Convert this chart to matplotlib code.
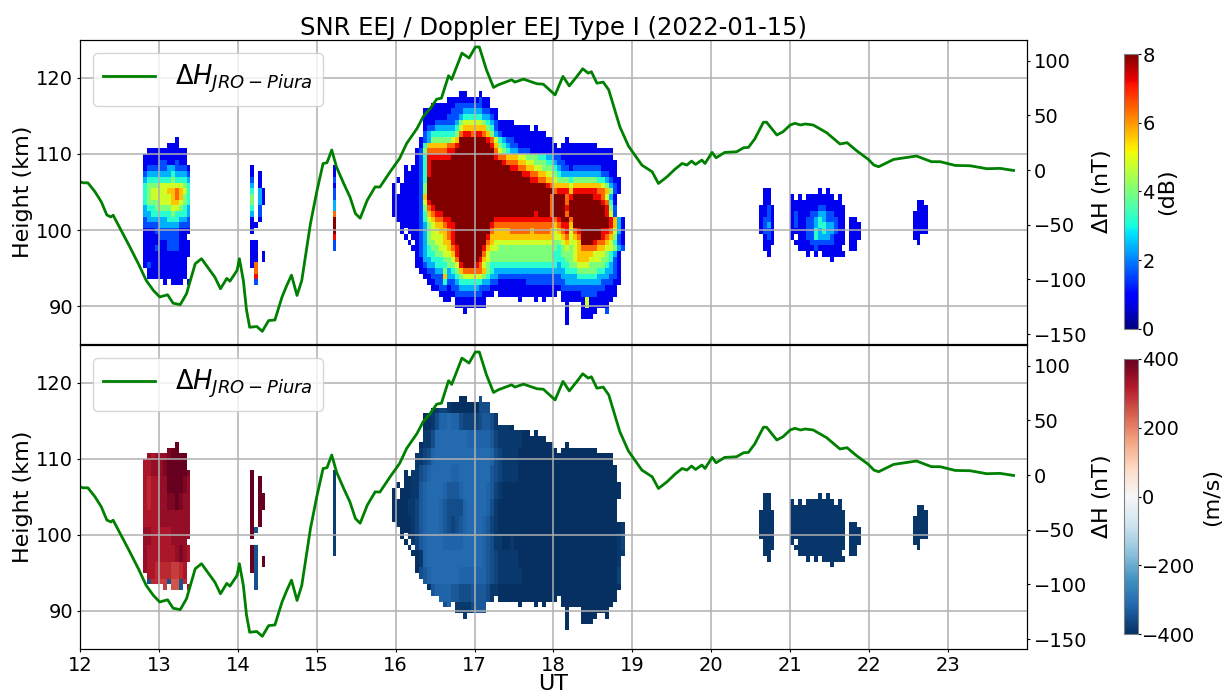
import numpy as np
import matplotlib
matplotlib.use('Agg')
import matplotlib.pyplot as plt

# magnetometer difference
dh_time = [12.00, 12.04, 12.10, 12.19, 12.27, 12.34, 12.39, 12.42, 12.51, 12.63, 12.74, 12.84, 12.93, 13.01, 13.11,
           13.18, 13.27, 13.35, 13.46, 13.54, 13.63, 13.71, 13.78, 13.86, 13.90, 13.99, 14.02, 14.07, 14.11, 14.15,
           14.24, 14.31, 14.39, 14.47, 14.56, 14.62, 14.68, 14.75, 14.81, 14.92, 15.00, 15.08, 15.13, 15.19, 15.25,
           15.34, 15.42, 15.49, 15.55, 15.64, 15.74, 15.80, 15.93, 16.05, 16.14, 16.27, 16.35, 16.44, 16.52, 16.58,
           16.67, 16.71, 16.84, 16.93, 17.01, 17.06, 17.15, 17.24, 17.30, 17.47, 17.51, 17.62, 17.79, 17.87, 18.02,
           18.12, 18.20, 18.30, 18.37, 18.44, 18.48, 18.55, 18.63, 18.70, 18.84, 18.95, 19.12, 19.25, 19.33, 19.44,
           19.54, 19.63, 19.69, 19.75, 19.80, 19.88, 19.92, 20.01, 20.06, 20.17, 20.32, 20.41, 20.47, 20.55, 20.66,
           20.70, 20.83, 20.91, 21.00, 21.06, 21.13, 21.19, 21.29, 21.46, 21.63, 21.72, 21.84, 21.99, 22.06, 22.12,
           22.31, 22.60, 22.79, 22.90, 23.09, 23.28, 23.49, 23.66, 23.83]
dh_value = [-10.7, -11.6, -11.6, -19.8, -29, -41, -42.8, -41.2, -53.5, -70, -85.6, -101, -110, -116, -114,
            -121.7, -123, -113, -85.6, -81, -90, -98, -108.5, -99, -101.5, -91.7, -81, -101, -128, -143.7,
            -143, -147.4, -137.6, -137, -116, -105.5, -96, -114.6, -101, -49, -19.8, 6, 6.8, 18.4, 3,
            -12, -24.4, -39.7, -44, -27.5, -15.3, -15.5, -1.5, 10.7, 24.5, 38, 49, 56.6, 64.9, 65.8,
            86.3, 83, 107, 102.5, 112.6, 112.6, 91.8, 75.6, 78, 82.6, 80.5, 83.2, 79, 78.6, 68.8,
            85.7, 77, 86, 92.7, 88.7, 90, 79.5, 80.5, 73.4, 39.8, 22, 4.6, -1.5, -12.2, -6,
            0.9, 6.1, 4.6, 8.3, 5.2, 9.2, 6.1, 16.2, 11.3, 16.2, 16.8, 20.5, 20.8, 28.5, 43.8,
            43.8, 32.1, 35.2, 41.3, 42.8, 41.3, 42.2, 41.3, 34.3, 23.9, 25.1, 17.8, 9.8, 4.6, 3.1,
            9.8, 12.9, 7.7, 7.7, 4.3, 4, 1.3, 1.6, -0.3]

# SNR cells, one char per 3 min x 0.75 km, char = level*0.8 dB (a = 8 dB), . = no echo
snr_main = [
    ".......... .......11. ..1....... .......... .......... .........",
    ".......... ....111111 11211..... .......... .......... .........",
    ".......... 1111112222 22211..... .......... .......... .........",
    "........11 1111122233 3332211... .......... .......... .........",
    "........11 1111222344 4443321... .......... .......... .........",
    "........11 1222223566 6665432111 1......... .......... .........",
    "........12 2333334677 7777542111 11111.1... .......... .........",
    "........23 4444445899 8998753211 111111111. .......... .........",
    ".......123 5555567aaa aaaa986432 2111111111 1...1..... .........",
    ".......147 7777889aaa aaaaa97543 2211111111 11.1111111 11.......",
    "......1258 888899aaaa aaaaaa8654 3322211111 1111111111 111111...",
    "......1249 99999aaaaa aaaaaa9887 7766555443 3221111111 111111...",
    "......1249 aaaaaaaaaa aaaaaaaa98 8877665554 4322111111 1111111..",
    "...1.11249 aaaaaaaaaa aaaaaaaaaa 9988776655 5432212222 22211 11.",
    "...1111249 aaaaaaaaaa aaaaaaaaaa aaa9988776 6543333333 3332211..",
    ".1.111124a aaaaaaaaaa aaaaaaaaaa aaaaa99887 7655545555 5544321 1",
    "1.1111125a aaaaaaaaaa aaaaaaaaaa aaaaaaaaa9 8777767777 7776532 1",
    "1.1111125a aaaaaaaaaa aaaaaaaaaa aaaaaaaaaa a899979999 9988752 1",
    "1111111 27a aaaaaaaaa aaaaaaaaaa aaaaaaaaaa a8aaa89aaa aa99863 1",
    "1111111 269 aaaaaaaaa aaaaaaaaaa aaaaaaaaaa a8aaa8aaaa aaaa9841.",
    "1111111 258 9aaaaaaaa aaaaaaaaaa aaaaaaaaaa a8aaa9aaaa aaaaa9 52.",
    "1111111 247 899aaaaaa aaaaaaaaaa aaaaaaa9aa a8aaa8aaaa aaaaa9 62.",
    ".111111246 7889 9aaaaa aaaaaa9999 9999999999 989aa8aaaa aaaaa973 1",
    "..11111235 6778 99aaaa aaaaa98888 8888888888 8789 97aaaa aaaaa973 1",
    "..1.111235 6677 89aaaa aaaaa87777 8888878888 76789 689aa aaa9986 31",
    "...1.11235 6667 89aaaa aaaa977777 7777777777 76678 678aa aaa9875 21",
    "....1.1235 5667 79aaaa aaaa876666 6666666666 65567 667aa a988764 21",
    ".....11234 5566 789aaa aaa9766555 5555555555 55456 5678 88877665 32.",
    "......1234 4556 679aaa aaa8655555 5555555555 54455 5677 77666 5431.",
    "......1133 4445 568aaa aa97655555 5555555555 54445 5677 76665 5421.",
    "......1123 3444 5569aa a986544444 4444444444 44344 5566 65555 4321.",
    ".......112 2335 345788 8887543333 3333333333 33334 4455 5554433 21.",
    "........11 2227 334566 6665433222 2222222222 22233 3344 4443332 21.",
    ".........1 1224 223444 4443322111 1111222222 22223 3333 3333222 11.",
    ".......... 1122 122333 3322211111 1111111111 11122 2222 2222211 1..",
    ".......... ..11 112222 2221 11.111 1111111111 11.11 11122 2211111 ..",
    ".......... ...11 .1111 1111...... ..1...1.1. ...111 1116 111111 ...",
    ".......... ...... 1111 1111...... .......... ....1 ...16 11111 ....",
    ".......... ........1. .......... .......... ....1 ...11 11..2 ....",
    ".......... .......... .......... .......... ....1 ...11 1........",
    ".......... .......... .......... .......... ....1 ..... .........",
]
snr_13h = [
    "........1...",
    "......111...",
    ".1111111111.",
    "11111111111.",
    "11112211211.",
    "122222332221",
    "233333343332",
    "344444454443",
    "455566666654",
    "456666778764",
    "456666678754",
    "455566677654",
    "344555566543",
    "334444454443",
    "233333444332",
    "222233333222",
    "111222222111",
    "111122222 11.",
    "111111222111",
    "111211222111",
    "111111111111",
    "11111111111.",
    "12111111111.",
    ".1111111111.",
    ".1111111111.",
    ".....1.111.1",
]
snr_14h = [
    "1...", "1.1.", "2.1.", "3.1.", "4.31", "5.31", "5.31", "4.2.", "3.2.", "1.1.", "11..", "1...",
    "....", "11..", "11..", "11.1", "11.1", "18..", ".8..", ".9..", ".2..",
]
snr_15h = ["1", "1", "2", "1", "2", "2", "3", "3", "8", "a", "a", "a", "9", "2", "2"]
snr_20h = [
    ".11.", ".11.", ".11.", "1121", "1121", "1221", "1231", "1221", ".121", ".111", ".11.", "..1.",
]
snr_21h = [
    ".......1.1........",
    "1.1.1111111.1.....",
    "1111111111111.....",
    "11111112211111....",
    "12111223322111....",
    "12112234322211.11.",
    "12112234433211.111",
    "11112243433211.111",
    "1.112243332111.111",
    ".11112222221 11.11.",
    "..1111211111 1..11.",
    "....1.1.111111....",
    "..........1.......",
]
snr_22h = [".11.", ".111", "1111", "1111", "1111", "1111", "11..", ".1.."]

# Doppler, same cells. main blob in 3-row bands, char c -> -400 + 15*c m/s
vel_main_bands = [
    "0000000000 0122100000 0033300000 0000000000 0000000000 000000000",
    "0000000000 1355655322 2234431111 0000000000 0000000000 000000000",
    "0000000011 3666666665 5555542111 1110000000 0000000000 000000000",
    "0000001123 5666666666 6666653211 1100000000 0000000000 000000000",
    "0000011345 6666655666 6666643211 1100000000 0000000000 000000000",
    "0000011456 6665444566 6666542100 0000000000 0000000000 000000000",
    "0000112456 6654333356 6666531000 0000000000 0000000000 000000000",
    "0000012456 6654323456 6665421000 0000000000 0000000000 000000001",
    "0000112456 6665555566 6665431100 1000000000 0000000000 000000012",
    "0000000156 6666666666 6665432111 1100000000 0000000000 000000011",
    "0000000345 6666666555 5555432111 1110000000 0000000000 000000020",
    "0000000000 4555544333 4444311000 0000000000 0000000000 000000000",
    "0000000000 3333541111 3444300000 0000000000 0000000000 000000000",
    "0000000000 0000000000 0000000000 0000000000 0000000000 000000000",
]
# 13 UT blob, char c -> 400 - 25*c m/s, n = -350 m/s
vel_13h_bands = [
    "223222100000",
    "332221000001",
    "343322000012",
    "343322110122",
    "333322222222",
    "223333322222",
    "233333332123",
    "233444455433",
    "2n4455n66n43",
]
vel_14h_cols = [400, -350, 400, 400]
vel_15h = -380
vel_late = -390

snr_ticks = [0, 2, 4, 6, 8]
vel_ticks = [-400, -200, 0, 200, 400]
dh_ticks = [-150, -100, -50, 0, 50, 100]
ut_ticks = list(range(12, 24))
height_ticks = [90, 100, 110, 120]

title = 'SNR EEJ / Doppler EEJ Type I (2022-01-15)'
dh_label = r'$\Delta H_{JRO-Piura}$'

plt.rcParams['font.size'] = 14
plt.rcParams['axes.labelsize'] = 16
plt.rcParams['grid.linewidth'] = 1.1
plt.rcParams['xtick.major.size'] = 2
plt.rcParams['ytick.major.size'] = 2
plt.rcParams['xtick.major.pad'] = 3
plt.rcParams['ytick.major.pad'] = 3

# grid of the radar cells
dt = 0.05
dz = 0.75
time_edges = 12 + dt * np.arange(241)
height_edges = 118.25 - dz * np.arange(42)
snr = np.full((41, 240), np.nan)
vel = np.full((41, 240), np.nan)


def clean(rows):
    return [r.replace(' ', '') for r in rows]


def put_snr(t0, k0, rows):
    col = int(round((t0 - 12) / dt))
    for k, row in enumerate(clean(rows)):
        for i, c in enumerate(row):
            if c != '.':
                snr[k0 + k, col + i] = int(c, 11) * 0.8


put_snr(15.95, 0, snr_main)
put_snr(12.80, 8, snr_13h)
put_snr(14.15, 13, snr_14h)
put_snr(15.20, 13, snr_15h)
put_snr(20.60, 17, snr_20h)
put_snr(21.00, 17, snr_21h)
put_snr(22.55, 19, snr_22h)

# main blob Doppler
bands = clean(vel_main_bands)
col0 = int(round((15.95 - 12) / dt))
for k in range(41):
    row = bands[k // 3]
    for i, c in enumerate(row):
        vel[k, col0 + i] = -400 + 15 * int(c)
# 13 UT
col0 = int(round((12.80 - 12) / dt))
for k in range(26):
    for i, c in enumerate(vel_13h_bands[k // 3]):
        vel[8 + k, col0 + i] = -350 if c == 'n' else 400 - 25 * int(c)
# 14 UT
col0 = int(round((14.15 - 12) / dt))
for i, v in enumerate(vel_14h_cols):
    vel[:, col0 + i] = v
vel[:, int(round((15.20 - 12) / dt))] = vel_15h
vel[:, int(round((20.60 - 12) / dt)):int(round((20.80 - 12) / dt))] = vel_late
vel[:, int(round((21.00 - 12) / dt)):int(round((21.90 - 12) / dt))] = vel_late
vel[:, int(round((22.55 - 12) / dt)):int(round((22.75 - 12) / dt))] = vel_late
vel[np.isnan(snr)] = np.nan

W, H = 1223.0, 693.0
fig = plt.figure(figsize=(12.23, 6.93), dpi=100)


def panel(y_top, y_bot):
    return fig.add_axes([80 / W, 1 - y_bot / H, (1027 - 80) / W, (y_bot - y_top) / H])


def draw(ax, data, cmap, vmin, vmax):
    mesh = ax.pcolormesh(time_edges, height_edges, data, cmap=cmap, vmin=vmin, vmax=vmax)
    ax.set_xlim(12, 24)
    ax.set_ylim(85, 125)
    ax.set_xticks(ut_ticks)
    ax.set_yticks(height_ticks)
    ax.set_ylabel('Height (km)', labelpad=2.5)
    ax.grid(True)
    ax2 = ax.twinx()
    ax2.plot(dh_time, dh_value, color='green', lw=2, label=dh_label)
    ax2.set_ylim(-159, 119)
    ax2.set_yticks(dh_ticks)
    ax2.set_ylabel(r'$\Delta$H (nT)', labelpad=2)
    ax2.legend(loc='upper left', fontsize=18.5, handlelength=2.0, handletextpad=0.8)
    return mesh


ax1 = panel(40, 344)
ax3 = panel(345, 649)
mesh1 = draw(ax1, snr, 'jet', 0, 8)
mesh2 = draw(ax3, vel, 'RdBu_r', -400, 400)
ax1.set_xticklabels([])
ax1.set_title(title, fontsize=17.5, pad=2)
ax3.set_xlabel('UT', labelpad=-0.5)

cax1 = fig.add_axes([1124 / W, 1 - 329 / H, 14 / W, 275 / H])
cb1 = fig.colorbar(mesh1, cax=cax1, ticks=snr_ticks)
cb1.ax.tick_params(pad=1)
cb1.set_label('(dB)', labelpad=2)
cb1.outline.set_edgecolor('#808080')
cax2 = fig.add_axes([1124 / W, 1 - 634 / H, 14 / W, 275 / H])
cb2 = fig.colorbar(mesh2, cax=cax2, ticks=vel_ticks)
cb2.ax.tick_params(pad=1)
cb2.set_label('(m/s)', labelpad=5)
cb2.outline.set_edgecolor('#808080')

fig.savefig('out.png', dpi=100)
